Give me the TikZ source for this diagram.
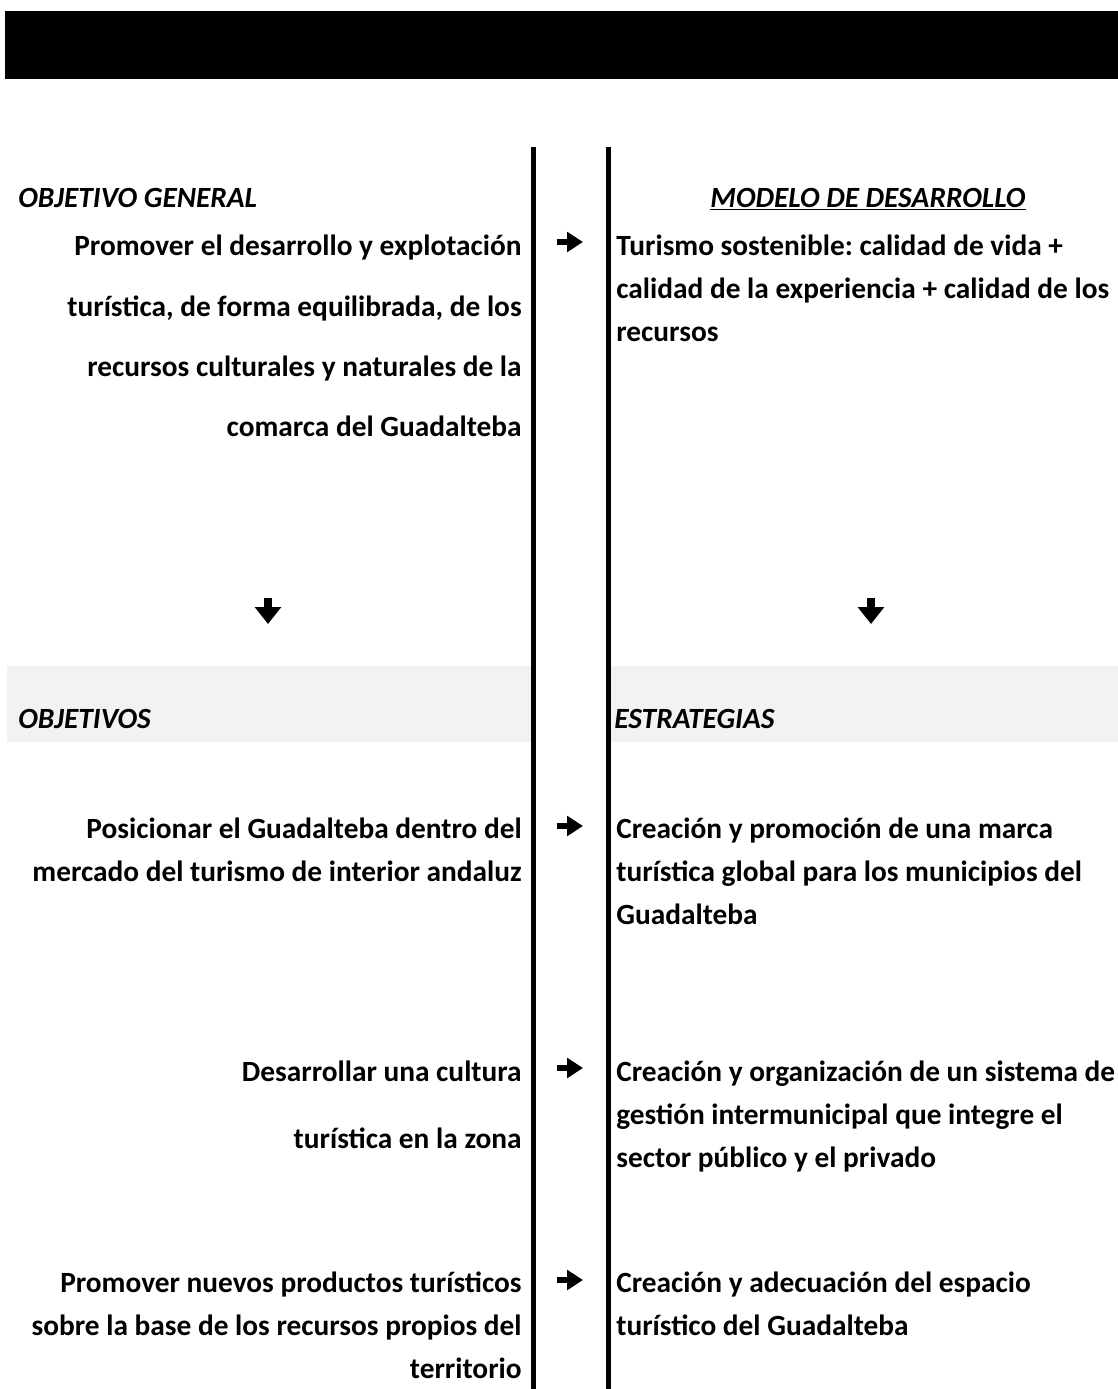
\documentclass[tikz,border=0pt]{standalone}
\usepackage{fontspec}
\setmainfont{Carlito}
\usetikzlibrary{arrows.meta}
\definecolor{bandgray}{RGB}{242,242,242}
\frenchspacing
\tikzset{
  lefttext/.style={anchor=base east, inner sep=0pt, font=\bfseries\fontsize{16.7}{20}\selectfont},
  righttext/.style={anchor=base west, inner sep=0pt, font=\bfseries\fontsize{16.7}{20}\selectfont},
  heading/.style={anchor=base west, inner sep=0pt, font=\bfseries\itshape\fontsize{16.7}{20}\selectfont},
  divider/.style={line width=2.85pt},
  sidearrow/.style={line width=2.9pt, -{Triangle[length=9pt, width=11pt]}},
  downarrow/.style={line width=4pt, -{Triangle[length=9.6pt, width=14.5pt]}}
}
\begin{document}
\begin{tikzpicture}[x=0.02cm, y=-0.02cm]
      \useasboundingbox (0,0) rectangle (1118,1389);
      % title bar and grey band
      \fill[black] (5,11) rectangle (1118,79);
      \fill[bandgray] (7,666) rectangle (531,742);
      \fill[bandgray] (610,666) rectangle (1118,742);
      % dividers
      \coordinate (dl1) at (533,147);
      \coordinate (dl2) at (533,1389);
      \coordinate (dr1) at (608,147);
      \coordinate (dr2) at (608,1389);
      \draw[divider] (dl1) -- (dl2);
      \draw[divider] (dr1) -- (dr2);
      % headings
      \draw
        (18,207) node[heading] (hgen){OBJETIVO GENERAL}
        (868,207) node[heading, anchor=base] (hmod){\underline{MODELO DE DESARROLLO}}
        (18,728) node[heading] (hobj){OBJETIVOS}
        (614,728) node[heading] (hest){ESTRATEGIAS};
      % objetivo general
      \draw
        (522,255) node[lefttext] (g1){Promover el desarrollo y explotación}
        (522,316) node[lefttext] (g2){turística, de forma equilibrada, de los}
        (522,376) node[lefttext] (g3){recursos culturales y naturales de la}
        (522,436) node[lefttext] (g4){comarca del Guadalteba};
      \draw
        (616,255) node[righttext] (m1){Turismo sostenible: calidad de vida +}
        (616,298) node[righttext] (m2){calidad de la experiencia + calidad de los}
        (616,341) node[righttext] (m3){recursos};
      % objetivos
      \draw
        (522,838) node[lefttext] (a1){Posicionar el Guadalteba dentro del}
        (522,881) node[lefttext] (a2){mercado del turismo de interior andaluz}
        (522,1081) node[lefttext] (b1){Desarrollar una cultura}
        (522,1148) node[lefttext] (b2){turística en la zona}
        (522,1292) node[lefttext] (c1){Promover nuevos productos turísticos}
        (522,1335) node[lefttext] (c2){sobre la base de los recursos propios del}
        (522,1378) node[lefttext] (c3){territorio};
      % estrategias
      \draw
        (616,838) node[righttext] (e1){Creación y promoción de una marca}
        (616,881) node[righttext] (e2){turística global para los municipios del}
        (616,924) node[righttext] (e3){Guadalteba}
        (616,1081) node[righttext] (f1){Creación y organización de un sistema de}
        (616,1124) node[righttext] (f2){gestión intermunicipal que integre el}
        (616,1167) node[righttext] (f3){sector público y el privado}
        (616,1292) node[righttext] (s1){Creación y adecuación del espacio}
        (616,1335) node[righttext] (s2){turístico del Guadalteba};
      % arrows
      \coordinate (pg) at (557,242);
      \coordinate (qg) at (583,242);
      \coordinate (pa) at (557,826);
      \coordinate (qa) at (583,826);
      \coordinate (pb) at (557,1068);
      \coordinate (qb) at (583,1068);
      \coordinate (pc) at (557,1280);
      \coordinate (qc) at (583,1280);
      \coordinate (ul) at (268,598);
      \coordinate (vl) at (268,624);
      \coordinate (ur) at (871,598);
      \coordinate (vr) at (871,624);
      \begin{scope}[sidearrow]
        \draw (pg) to (qg);
        \draw (pa) to (qa);
        \draw (pb) to (qb);
        \draw (pc) to (qc);
      \end{scope}
      \draw[downarrow] (ul) to (vl);
      \draw[downarrow] (ur) to (vr);
    \end{tikzpicture}
\end{document}
